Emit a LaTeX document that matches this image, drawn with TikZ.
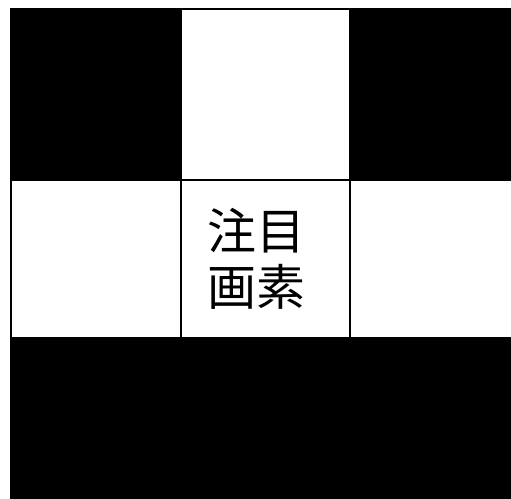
\documentclass[tikz,border=0pt]{standalone}
\usepackage{fontspec}
\newfontfamily\cjk{Noto Sans CJK JP}
\begin{document}
\begin{tikzpicture}[x=1pt,y=1pt,
  cell/.style={draw=black,line width=1.5pt,inner sep=0pt,outer sep=0pt},
  blk/.style={cell,fill=black},
  wht/.style={cell,fill=white}]
\useasboundingbox (0,0) rectangle (511,498);
\fill[white] (0,0) rectangle (511,498);
% top row (y from 318 to 489)
\draw[blk] (11,318) rectangle (181,489);
\draw[wht] (181,318) rectangle (350,489);
\draw[blk] (350,318) rectangle (512,489);
% middle row (y from 160 to 318)
\draw[wht] (11,160) rectangle (181,318);
\draw[wht] (181,160) rectangle (350,318);
\draw[wht] (350,160) rectangle (512,318);
% bottom row
\draw[blk] (11,-2) rectangle (181,160);
\draw[blk] (181,-2) rectangle (350,160);
\draw[blk] (350,-2) rectangle (512,160);
\node[align=left,inner sep=0pt,font=\cjk\fontsize{49}{56}\selectfont] (t) at (256,239) {注目\\画素};
\end{tikzpicture}
\end{document}
